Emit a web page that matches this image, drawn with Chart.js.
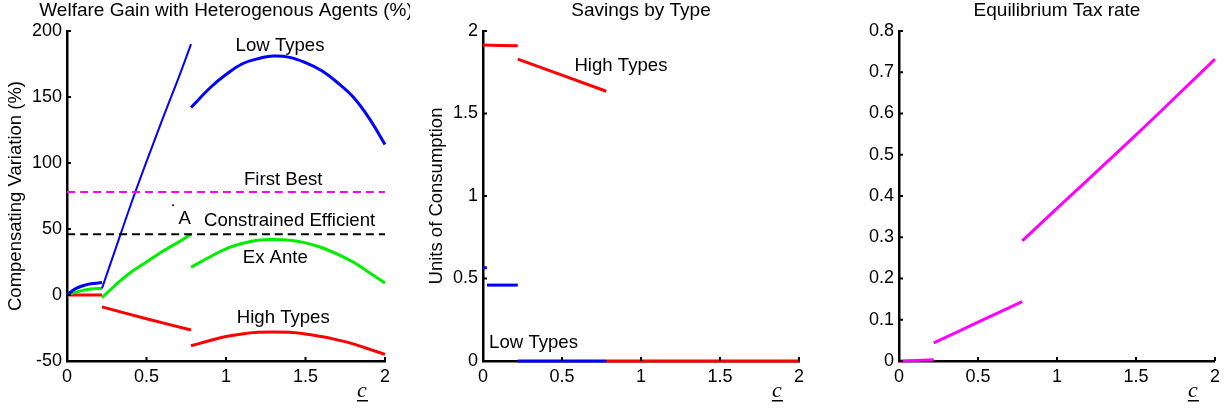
<!DOCTYPE html>
<html><head><meta charset="utf-8">
<script src="https://cdn.jsdelivr.net/npm/chart.js@4"></script>
<style>
html,body{margin:0;padding:0;background:#fff;width:1225px;height:410px;overflow:hidden}
canvas{position:absolute;top:0}
</style></head><body>
<canvas id="c1" width="410" height="410" style="left:0px"></canvas>
<canvas id="c2" width="410" height="410" style="left:410px"></canvas>
<canvas id="c3" width="405" height="410" style="left:820px"></canvas>
<script>
// ---------- Panel 1: Welfare gain (%) ----------
const lowX1 = [0, 0.05, 0.1, 0.15, 0.22];
const lowY1 = [0, 4.5, 7, 8.5, 9.5];
const lowX2 = [0.22, 0.3, 0.4, 0.5, 0.6, 0.7, 0.78];
const lowY2 = [5, 33, 68, 101, 133, 164, 190];
const midX3 = [0.78, 0.9, 1.0, 1.1, 1.2, 1.3, 1.4, 1.5, 1.6, 1.7, 1.8, 1.9, 2.0];
const lowY3 = [142, 157, 167, 175, 179, 181, 180, 176, 170, 161, 150, 134, 114];
const exX1 = [0, 0.05, 0.1, 0.15, 0.22];
const exY1 = [0, 2, 3.5, 4.5, 5];
const exX2 = [0.22, 0.3, 0.4, 0.5, 0.6, 0.7, 0.78];
const exY2 = [-2, 7, 17, 25, 33, 40, 46];
const exY3 = [21, 29, 35, 39, 41.5, 42, 41.5, 39.5, 36, 31, 25, 17, 9];
const hiX1 = [0, 0.22];
const hiY1 = [0, 0];
const hiX2 = [0.22, 0.5, 0.78];
const hiY2 = [-9, -18, -26.5];
const hiY3 = [-38.5, -34.5, -31.5, -29.5, -28.3, -28, -28.3, -29.5, -31.5, -34, -37, -41, -45];
const refX = [0, 2];
const firstBestY = [78, 78];
const constrEffY = [46, 46];
const dotX = [0.667];
const dotY = [68];
const yTicks1 = [-50, 200, 50];

// ---------- Panel 2: Savings by type ----------
const savHiX1 = [0, 0.22];
const savHiY1 = [1.915, 1.91];
const savHiX2 = [0.22, 0.78];
const savHiY2 = [1.83, 1.635];
const savHiX3 = [0.78, 2];
const savHiY3 = [0, 0];
const savLoX0 = [0, 0.025];
const savLoY0 = [0.565, 0.565];
const savLoX1 = [0.025, 0.22];
const savLoY1 = [0.46, 0.46];
const savLoX2 = [0.22, 0.78];
const savLoY2 = [0, 0];
const yTicks2 = [0, 2, 0.5];

// ---------- Panel 3: Equilibrium tax rate ----------
const taxX1 = [0, 0.22];
const taxY1 = [0, 0.003];
const taxX2 = [0.22, 0.5, 0.78];
const taxY2 = [0.044, 0.094, 0.144];
const taxX3 = [0.78, 1.0, 1.5, 2.0];
const taxY3 = [0.291, 0.37, 0.548, 0.732];
const yTicks3 = [0, 0.8, 0.1];

const xTicks = [0, 2, 0.5];

const FONT = '"Liberation Sans", Arial, sans-serif';
Chart.defaults.font.family = FONT;
Chart.defaults.font.size = 18;
Chart.defaults.color = '#000';

const BLUE = '#0000ff', GREEN = '#00ee00', RED = '#ff0000', MAG = '#ff00ff';

function pts(xs, ys) { return xs.map((x, i) => ({x: x, y: ys[i]})); }
function line(xs, ys, color, width, dash) {
  return {type: 'line', data: pts(xs, ys), borderColor: color, backgroundColor: color,
    borderWidth: width, borderDash: dash || [], pointRadius: 0, fill: false,
    tension: 0.4, borderCapStyle: 'butt', clip: false};
}
const fmt = v => String(Math.round(v * 100) / 100);

const extras = {
  id: 'extras',
  afterDraw(chart, args, o) {
    const ctx = chart.ctx, ca = chart.chartArea, xs = chart.scales.x, ys = chart.scales.y;
    ctx.save();
    ctx.strokeStyle = '#000'; ctx.lineWidth = 2;
    xs.ticks.forEach(t => {
      const p = xs.getPixelForValue(t.value);
      ctx.beginPath(); ctx.moveTo(p, ca.bottom); ctx.lineTo(p, ca.bottom - 4); ctx.stroke();
    });
    ys.ticks.forEach(t => {
      const p = ys.getPixelForValue(t.value);
      ctx.beginPath(); ctx.moveTo(ca.left, p); ctx.lineTo(ca.left + 4, p); ctx.stroke();
    });
    ctx.fillStyle = '#000';
    ctx.textAlign = 'center'; ctx.textBaseline = 'middle';
    ctx.font = '19px ' + FONT;
    ctx.fillText(o.title, (ca.left + ca.right) / 2, 11);
    ctx.font = '18.6px ' + FONT;
    (o.notes || []).forEach(n => ctx.fillText(n.text, xs.getPixelForValue(n.x), ys.getPixelForValue(n.y)));
    ctx.font = 'italic 22px "Liberation Serif", "DejaVu Serif", serif';
    const lx = xs.getPixelForValue(o.cx);
    ctx.fillText('c', lx, 391);
    ctx.fillRect(lx - 5, 400, 11, 1.5);
    ctx.restore();
  }
};

function makePanel(id, datasets, yr, yw, padRight, opts, ytitle, ytpad) {
  new Chart(document.getElementById(id), {
    type: 'line',
    data: {datasets: datasets},
    plugins: [extras],
    options: {
      responsive: false, animation: false, events: [],
      layout: {padding: {top: 31, right: padRight, left: 0, bottom: 0}},
      plugins: {legend: {display: false}, tooltip: {enabled: false}, title: {display: false}, extras: opts},
      scales: {
        x: {type: 'linear', min: xTicks[0], max: xTicks[1],
          ticks: {stepSize: xTicks[2], padding: 5, maxRotation: 0, callback: fmt, color: '#000', font: {size: 18}},
          grid: {display: false, drawTicks: false},
          border: {display: true, color: '#000', width: 2.5},
          afterFit: s => { s.height = 49; }},
        y: {type: 'linear', min: yr[0], max: yr[1],
          ticks: {stepSize: yr[2], padding: 5, callback: fmt, color: '#000', font: {size: 18}},
          grid: {display: false, drawTicks: false},
          border: {display: true, color: '#000', width: 2.5},
          title: {display: !!ytitle, text: ytitle || '', color: '#000', font: {size: 18.5}, padding: {top: ytpad, bottom: 0}},
          afterFit: s => { s.width = yw; }}
      }
    }
  });
}

makePanel('c1', [
  line(refX, firstBestY, MAG, 2, [8, 5]),
  line(refX, constrEffY, '#000', 2, [8, 5]),
  line(lowX1, lowY1, BLUE, 3),
  line(lowX2, lowY2, BLUE, 2),
  line(midX3, lowY3, BLUE, 3),
  line(exX1, exY1, GREEN, 3),
  line(exX2, exY2, GREEN, 3),
  line(midX3, exY3, GREEN, 3),
  line(hiX1, hiY1, RED, 3),
  line(hiX2, hiY2, RED, 3),
  line(midX3, hiY3, RED, 3),
  {type: 'scatter', data: pts(dotX, dotY), pointRadius: 1, backgroundColor: '#000', borderColor: '#000', borderWidth: 0, clip: false}
], yTicks1, 67, 25, {
  title: 'Welfare Gain with Heterogenous Agents (%)', cx: 1.855,
  notes: [
    {text: 'Low Types', x: 1.34, y: 189},
    {text: 'First Best', x: 1.36, y: 87},
    {text: 'A', x: 0.74, y: 57.5},
    {text: 'Constrained Efficient', x: 1.40, y: 56},
    {text: 'Ex Ante', x: 1.31, y: 28},
    {text: 'High Types', x: 1.36, y: -17.5}
  ]
}, 'Compensating Variation (%)', 5);

makePanel('c2', [
  line(savHiX1, savHiY1, RED, 3),
  line(savHiX2, savHiY2, RED, 3),
  line(savLoX0, savLoY0, BLUE, 3),
  line(savLoX1, savLoY1, BLUE, 3),
  line(savLoX2, savLoY2, BLUE, 3),
  line(savHiX3, savHiY3, RED, 3)
], yTicks2, 73, 21, {
  title: 'Savings by Type', cx: 1.86,
  notes: [
    {text: 'High Types', x: 0.873, y: 1.79},
    {text: 'Low Types', x: 0.32, y: 0.11}
  ]
}, 'Units of Consumption', 16);

makePanel('c3', [
  line(taxX1, taxY1, MAG, 3),
  line(taxX2, taxY2, MAG, 3),
  line(taxX3, taxY3, MAG, 3)
], yTicks3, 79, 10, {title: 'Equilibrium Tax rate', cx: 1.86, notes: []}, '', 0);
</script>
</body></html>
